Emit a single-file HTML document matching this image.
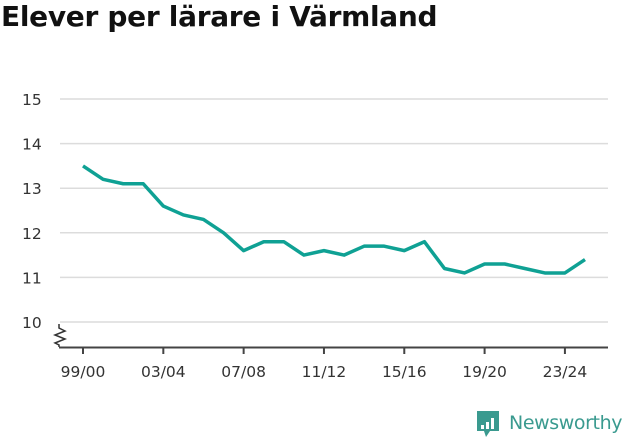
<!DOCTYPE html>
<html><head><meta charset="utf-8"><style>
body{margin:0;width:631px;height:439px;background:#fff;overflow:hidden;font-family:"Liberation Sans",sans-serif}
h1{position:absolute;left:1px;top:0px;margin:0;font-family:"DejaVu Sans",sans-serif;font-size:28px;font-weight:bold;color:#111;letter-spacing:-0.3px}
</style></head><body>
<h1>Elever per lärare i Värmland</h1>
<svg id="c" width="631" height="439" style="position:absolute;left:0;top:0"></svg>
<script>
const categories=["99/00","00/01","01/02","02/03","03/04","04/05","05/06","06/07","07/08","08/09","09/10","10/11","11/12","12/13","13/14","14/15","15/16","16/17","17/18","18/19","19/20","20/21","21/22","22/23","23/24","24/25"];
const values=[13.5,13.2,13.1,13.1,12.6,12.4,12.3,12.0,11.6,11.8,11.8,11.5,11.6,11.5,11.7,11.7,11.6,11.8,11.2,11.1,11.3,11.3,11.2,11.1,11.1,11.4];
const yTicks=[10,11,12,13,14,15];
const xTickLabels=["99/00","03/04","07/08","11/12","15/16","19/20","23/24"];
const NS="http://www.w3.org/2000/svg";
const svg=document.getElementById('c');
const x=i=>83+i*20.08;
const y=v=>322-(v-10)*44.6;
function mk(t,a,txt){const e=document.createElementNS(NS,t);for(const k in a)e.setAttribute(k,a[k]);if(txt!==undefined)e.textContent=txt;svg.appendChild(e);return e;}
yTicks.forEach(v=>{
  const g=mk('line',{x1:60,x2:608,y1:y(v),y2:y(v),stroke:'#dcdcdc','stroke-width':1.5});
  
  
  const t=mk('text',{x:22,y:y(v)+6,'font-size':15.5,'font-family':'DejaVu Sans, sans-serif',fill:'#333'},String(v));
  
  
});
const ax=mk('line',{x1:59,x2:608,y1:347.5,y2:347.5,stroke:'#444','stroke-width':2});


const br=mk('path',{d:'M59,324 L59,328 L65,331 L55,335 L65,339 L55,343 L59,345 L59,347',fill:'none',stroke:'#333','stroke-width':1.5});


xTickLabels.forEach(l=>{
  const i=categories.indexOf(l);
  const tk=mk('line',{x1:x(i),x2:x(i),y1:347,y2:354,stroke:'#444','stroke-width':2});
  
  
  const t=mk('text',{x:x(i),y:377,'font-size':15.5,'font-family':'DejaVu Sans, sans-serif',fill:'#333','text-anchor':'middle'},l);
  
  
});
const ln=mk('polyline',{points:values.map((v,i)=>x(i)+','+y(v)).join(' '),fill:'none',stroke:'#0fa194','stroke-width':3.5,'stroke-linejoin':'round'});


const lg=mk('g',{});


const r=document.createElementNS(NS,'path');r.setAttribute('d','M477,411 h22 v20 h-9 l-4,6 l-2,-6 h-7 z');r.setAttribute('fill','#3a9a8f');lg.appendChild(r);
[[481,425,3,4],[486,422,3,7],[491,418,3,11]].forEach(b=>{const e=document.createElementNS(NS,'rect');e.setAttribute('x',b[0]);e.setAttribute('y',b[1]);e.setAttribute('width',b[2]);e.setAttribute('height',b[3]);e.setAttribute('fill','#fff');lg.appendChild(e);});
const lt=document.createElementNS(NS,'text');lt.setAttribute('x',509);lt.setAttribute('y',429);lt.setAttribute('font-size',19);lt.setAttribute('font-family','DejaVu Sans, sans-serif');lt.setAttribute('letter-spacing','-0.4');lt.setAttribute('fill','#3a9a8f');lt.textContent='Newsworthy';lg.appendChild(lt);
svg.appendChild(lg);
</script>
</body></html>
